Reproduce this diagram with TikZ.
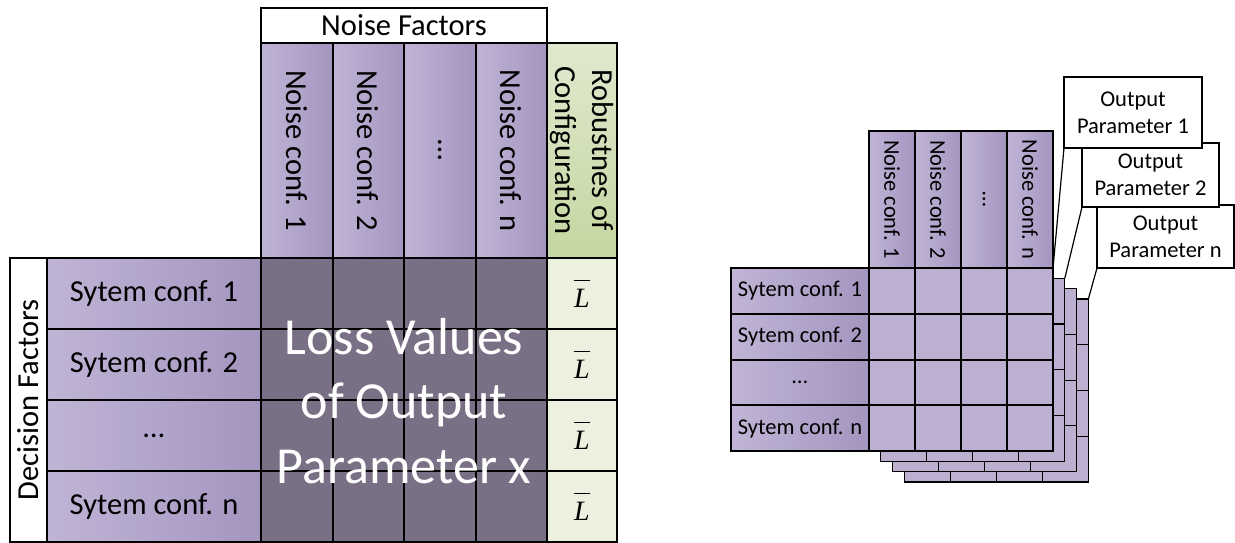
\documentclass[tikz,border=0pt]{standalone}
\usepackage{fontspec}
\setmainfont{Carlito}
\newfontfamily\tnrfont{Liberation Serif}
\definecolor{purL}{RGB}{192,180,214}
\definecolor{purR}{RGB}{164,149,191}
\definecolor{darkc}{RGB}{122,112,133}
\definecolor{grnT}{RGB}{224,233,207}
\definecolor{grnB}{RGB}{196,214,160}
\definecolor{grnL}{RGB}{235,241,222}
\definecolor{cellc}{RGB}{188,175,208}
\tikzset{
  box/.style={draw=black, line width=2pt, inner sep=0pt, outer sep=0pt, rectangle},
  thinbox/.style={draw=black, line width=1.2pt, fill=white, inner sep=0pt, outer sep=0pt, rectangle},
  backcell/.style={draw=black, line width=1.2pt, fill=cellc, inner sep=0pt, outer sep=0pt, rectangle},
  purp/.style={box, left color=purL, right color=purR},
  bigfont/.style={font=\fontsize{30.5}{37}\selectfont},
  smallfont/.style={font=\fontsize{22.5}{27}\selectfont},
  leader/.style={draw=black, line width=1.2pt},
}
\begin{document}
\begin{tikzpicture}[x=1pt,y=-1pt]
\useasboundingbox (0,0) rectangle (1235,543);

% ================= LEFT TABLE =================
\node[thinbox, bigfont, minimum width=286pt, minimum height=35pt, anchor=north west] (nf) at (261,8) {Noise Factors};

\foreach \x/\t [count=\k] in {261/Noise conf. 1,332.5/Noise conf. 2,404/…,475.5/Noise conf. n}{
  \node[purp, minimum width=71.5pt, minimum height=215pt, anchor=north west] (lh\k) at (\x,43) {};
  \node[rotate=-90, bigfont] (lht\k) at (lh\k.center) {\t};
}
\node[box, top color=grnT, bottom color=grnB, minimum width=70pt, minimum height=215pt, anchor=north west] (rob) at (547,43) {};
\node[rotate=-90, bigfont, align=center] (robt) at (rob.center) {Robustnes of\\Configuration};

\node[thinbox, minimum width=37pt, minimum height=284pt, anchor=north west] (df) at (10,258) {};
\node[rotate=90, bigfont] (dft) at (df.center) {Decision Factors};

\foreach \y/\t [count=\k] in {258/Sytem conf. 1,329/Sytem conf. 2,400/…,471/Sytem conf. n}{
  \node[purp, bigfont, minimum width=214pt, minimum height=71pt, anchor=north west] (lr\k) at (47,\y) {\t};
  \foreach \x [count=\j] in {261,332.5,404,475.5}{
    \node[box, fill=darkc, minimum width=71.5pt, minimum height=71pt, anchor=north west] (ld\k\j) at (\x,\y) {};
  }
  \node[box, fill=grnL, minimum width=70pt, minimum height=71pt, anchor=north west] (lb\k) at (547,\y) {};
  \node[font=\fontsize{28}{32}\selectfont, inner sep=0pt] (lbt\k) at (lb\k.center) {$\overline{\mbox{\rule{0pt}{26pt}\tnrfont\itshape L}}$};
}
\node[text=white, font=\fontsize{52}{64.5}\selectfont, align=center, inner sep=0pt] (loss) at (404,401) {Loss Values\\of Output\\Parameter x};

% ================= RIGHT TABLE =================
% back layers
\foreach \k in {3,2,1}{
  \foreach \r in {0,1,2,3}{
    \foreach \c in {0,1,2,3}{
      \node[backcell, minimum width=46pt, minimum height=45.75pt, anchor=north west] (bk\k-\r-\c) at ({869+\c*46+\k*11.8},{268+\r*45.75+\k*10.3}) {};
    }
  }
}
% headers
\foreach \x/\t [count=\k] in {869/Noise conf. 1,915/Noise conf. 2,961/…,1007/Noise conf. n}{
  \node[purp, minimum width=46pt, minimum height=137pt, anchor=north west] (rh\k) at (\x,131) {};
  \node[rotate=-90, smallfont] (rht\k) at (rh\k.center) {\t};
}
% rows
\foreach \y/\t [count=\k] in {268/Sytem conf. 1,313.75/Sytem conf. 2,359.5/…,405.25/Sytem conf. n}{
  \node[purp, smallfont, minimum width=138pt, minimum height=45.75pt, anchor=north west] (rr\k) at (731,\y) {\t};
  \foreach \x [count=\j] in {869,915,961,1007}{
    \node[box, fill=cellc, minimum width=46pt, minimum height=45.75pt, anchor=north west] (rd\k\j) at (\x,\y) {};
  }
}

% callouts
\node[thinbox, smallfont, align=center, minimum width=137pt, minimum height=63pt, anchor=north west] (opn) at (1097,205) {Output\\Parameter n};
\node[thinbox, smallfont, align=center, minimum width=137pt, minimum height=64pt, anchor=north west] (op2) at (1082,143) {Output\\Parameter 2};
\node[thinbox, smallfont, align=center, minimum width=138pt, minimum height=71pt, anchor=north west] (op1) at (1064,77) {Output\\Parameter 1};

\draw[leader] (op1.south west) -- (rd14.north east);
\draw[leader] (op2.south west) -- (bk1-0-3.north east);
\draw[leader] (opn.south west) -- (bk3-0-3.north east);
\end{tikzpicture}
\end{document}
